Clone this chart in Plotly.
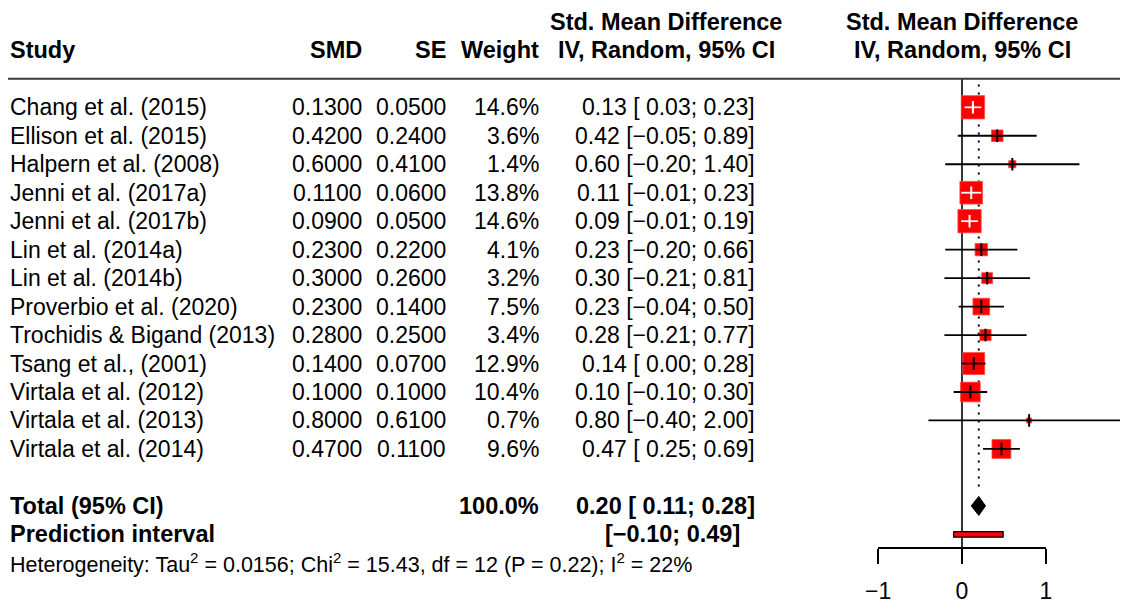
import plotly.graph_objects as go

# ---------------- data ----------------
studies = ["Chang et al. (2015)", "Ellison et al. (2015)", "Halpern et al. (2008)",
           "Jenni et al. (2017a)", "Jenni et al. (2017b)", "Lin et al. (2014a)",
           "Lin et al. (2014b)", "Proverbio et al. (2020)", "Trochidis & Bigand (2013)",
           "Tsang et al., (2001)", "Virtala et al. (2012)", "Virtala et al. (2013)",
           "Virtala et al. (2014)"]
smd = [0.13, 0.42, 0.60, 0.11, 0.09, 0.23, 0.30, 0.23, 0.28, 0.14, 0.10, 0.80, 0.47]
se = [0.05, 0.24, 0.41, 0.06, 0.05, 0.22, 0.26, 0.14, 0.25, 0.07, 0.10, 0.61, 0.11]
weight = [14.6, 3.6, 1.4, 13.8, 14.6, 4.1, 3.2, 7.5, 3.4, 12.9, 10.4, 0.7, 9.6]
ci_lo = [0.03, -0.05, -0.20, -0.01, -0.01, -0.20, -0.21, -0.04, -0.21, 0.00, -0.10, -0.40, 0.25]
ci_hi = [0.23, 0.89, 1.40, 0.23, 0.19, 0.66, 0.81, 0.50, 0.77, 0.28, 0.30, 2.00, 0.69]
total_est, total_lo, total_hi = 0.20, 0.11, 0.28
total_weight = 100.0
pred_lo, pred_hi = -0.10, 0.49
tau2, chi2, df, pval, i2 = 0.0156, 15.43, 12, 0.22, 22
tick_vals = [-1, 0, 1]
tick_text = ["\u22121", "0", "1"]

# ---------------- layout geometry ----------------
W, H = 1128, 600
OFF = 8                # page offset of the plot div
X0_PX = 962.0 - OFF    # pixel of SMD = 0
PPU = 83.9             # pixels per SMD unit
ROW1_PX = 107.3 - OFF  # pixel of first study row
ROW_PX = 28.47         # row spacing
AXIS_PX = 548.0 - OFF
FONT = "Liberation Sans, Arial, Helvetica, sans-serif"
FS = 23

xrange_ = [(0 - X0_PX) / PPU, (W - X0_PX) / PPU]
yrange_ = [1 + (H - ROW1_PX) / ROW_PX, 1 - ROW1_PX / ROW_PX]
axis_row = 1 + (AXIS_PX - ROW1_PX) / ROW_PX

rows = list(range(1, len(studies) + 1))
row_total = len(studies) + 2
row_pred = row_total + 1
row_het = row_pred + 1


def fmt_ci(v):
    return ("\u2212" if v < 0 else " ") + f"{abs(v):.2f}"


def fmt_num(v):
    return ("\u2212" if v < 0 else "") + f"{abs(v):.2f}"


fig = go.Figure()

# squares
sides = [6.1 * (w ** 0.5) for w in weight]
fig.add_trace(go.Scatter(
    x=smd, y=rows, mode="markers",
    marker=dict(symbol="square", size=sides, color="#ff0000", opacity=1,
                line=dict(width=0.8, color="#ff4a4a")),
    hoverinfo="skip", showlegend=False))

# CI lines (white inside square, else black)
inside = [(h - l) * PPU <= s for l, h, s in zip(ci_lo, ci_hi, sides)]
for colr, flag in (("black", False), ("white", True)):
    xs, ys = [], []
    for l, h, r, f in zip(ci_lo, ci_hi, rows, inside):
        if f == flag:
            xs += [l, h, None]
            ys += [r, r, None]
    fig.add_trace(go.Scatter(x=xs, y=ys, mode="lines",
                             line=dict(color=colr, width=1.8),
                             hoverinfo="skip", showlegend=False))

# estimate ticks
fig.add_trace(go.Scatter(
    x=smd, y=rows, mode="markers",
    marker=dict(symbol="line-ns", size=9, opacity=1,
                line=dict(width=2, color=["white" if f else "black" for f in inside])),
    hoverinfo="skip", showlegend=False))

# diamond for total
dh = 9.5 / ROW_PX
fig.add_trace(go.Scatter(
    x=[total_lo, total_est, total_hi, total_est, total_lo],
    y=[row_total, row_total - dh, row_total, row_total + dh, row_total],
    mode="lines", fill="toself", fillcolor="black",
    line=dict(color="black", width=1), hoverinfo="skip", showlegend=False))

# prediction interval bar
ph = 2.8 / ROW_PX
fig.add_trace(go.Scatter(
    x=[pred_lo, pred_hi, pred_hi, pred_lo, pred_lo],
    y=[row_pred - ph, row_pred - ph, row_pred + ph, row_pred + ph, row_pred - ph],
    mode="lines", fill="toself", fillcolor="#ff0000",
    line=dict(color="black", width=1.3), hoverinfo="skip", showlegend=False))

# invisible trace for the bottom axis
fig.add_trace(go.Scatter(x=[0], y=[None], xaxis="x2", yaxis="y",
                         mode="markers", hoverinfo="skip", showlegend=False))

# ---------------- text ----------------
ann = []


def txt(x_px, row, s, anchor="left", size=FS):
    ann.append(dict(x=(x_px - OFF) / W, xref="paper", y=row, yref="y", text=s,
                    xanchor=anchor, yanchor="middle", showarrow=False,
                    borderpad=0, borderwidth=0,
                    font=dict(size=size, family=FONT, color="black")))


COL_STUDY, COL_SMD, COL_SE, COL_W, COL_CI = 10, 362, 446, 539, 755
HS = 23.5
# headers
txt(COL_STUDY, -1, "<b>Study</b>", size=HS)
txt(COL_SMD, -1, "<b>SMD</b>", "right", size=HS)
txt(COL_SE, -1, "<b>SE</b>", "right", size=HS)
txt(COL_W, -1, "<b>Weight</b>", "right", size=HS)
txt(666, -2, "<b>Std. Mean Difference</b>", "center", size=HS)
txt(666, -1, "<b>IV, Random, 95% CI</b>", "center", size=HS)
txt(962, -2, "<b>Std. Mean Difference</b>", "center", size=HS)
txt(962, -1, "<b>IV, Random, 95% CI</b>", "center", size=HS)

for r, s, m, e, w, l, h in zip(rows, studies, smd, se, weight, ci_lo, ci_hi):
    txt(COL_STUDY, r, s.replace("&", "&amp;"))
    txt(COL_SMD, r, f"{m:.4f}", "right")
    txt(COL_SE, r, f"{e:.4f}", "right")
    txt(COL_W, r, f"{w:.1f}%", "right")
    txt(COL_CI, r, f"{fmt_num(m)} [{fmt_ci(l)}; {fmt_num(h)}]", "right")

txt(COL_STUDY, row_total, "<b>Total (95% CI)</b>", size=HS)
txt(COL_W, row_total, f"<b>{total_weight:.1f}%</b>", "right", size=HS)
txt(COL_CI, row_total,
    f"<b>{fmt_num(total_est)} [{fmt_ci(total_lo)}; {fmt_num(total_hi)}]</b>", "right", size=HS)
txt(COL_STUDY, row_pred, "<b>Prediction interval</b>", size=HS)
txt(740, row_pred, f"<b>[{fmt_ci(pred_lo).strip()}; {fmt_num(pred_hi)}]</b>", "right", size=HS)
txt(COL_STUDY, row_het,
    f"Heterogeneity: Tau<sup>2</sup> = {tau2:.4f}; Chi<sup>2</sup> = {chi2:.2f}, "
    f"df = {df} (P = {pval:.2f}); I<sup>2</sup> = {i2}%", size=21.5)

# ---------------- shapes ----------------
shapes = [
    dict(type="line", xref="paper", yref="y", x0=0, x1=1, y0=0, y1=0,
         line=dict(color="#3a3a3a", width=2)),
    dict(type="line", xref="x", yref="y", x0=0, x1=0, y0=0, y1=axis_row,
         line=dict(color="black", width=1.6), layer="below"),
    dict(type="line", xref="x", yref="y", x0=total_est, x1=total_est,
         y0=0.2, y1=14.45, line=dict(color="black", width=2, dash="2px,6px"),
         layer="below"),
]

fig.update_layout(
    template="none",
    width=W, height=H, margin=dict(l=0, r=0, t=0, b=0, pad=0, autoexpand=False),
    autosize=False,
    paper_bgcolor="white", plot_bgcolor="rgba(0,0,0,0)",
    xaxis=dict(range=xrange_, visible=False, fixedrange=True, automargin=False),
    yaxis=dict(range=yrange_, visible=False, fixedrange=True, automargin=False),
    xaxis2=dict(domain=[(X0_PX - PPU) / W, (X0_PX + PPU) / W], range=[-1, 1],
                anchor="free", position=1 - AXIS_PX / H, side="bottom",
                showline=True, linecolor="black", linewidth=1.6,
                ticks="outside", ticklen=15, tickwidth=1.6, tickcolor="black",
                tickvals=tick_vals, ticktext=tick_text, ticklabelstandoff=8,
                tickfont=dict(size=FS, family=FONT, color="black"),
                showgrid=False, zeroline=False, fixedrange=True, automargin=False),
    annotations=ann, shapes=shapes, showlegend=False,
    font=dict(family=FONT, color="black"),
)

fig.write_html("out.html")
